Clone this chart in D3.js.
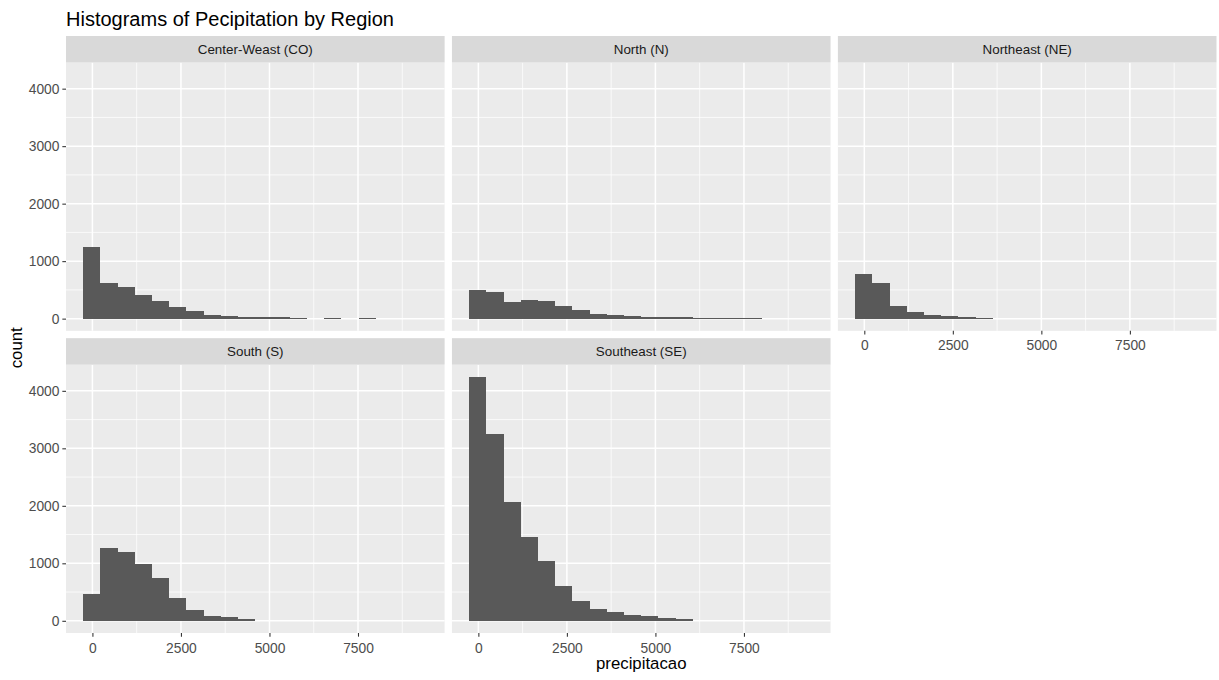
<!DOCTYPE html>
<html>
<head>
<meta charset="utf-8">
<script src="https://cdn.jsdelivr.net/npm/d3@7"></script>
<style>
  html, body { margin: 0; padding: 0; background: #ffffff; }
  svg { display: block; }
  text { font-family: "Liberation Sans", Arial, Helvetica, sans-serif; }
</style>
</head>
<body>
<svg id="chart" width="1219" height="680"></svg>
<script>
// Facet labels, in panel order (left to right, top to bottom)
const regions = ["Center-Weast (CO)", "North (N)", "Northeast (NE)", "South (S)", "Southeast (SE)"];

// Shared histogram bin edges (20 bins)
const binEdges = [-260, 226, 712, 1198, 1684, 2170, 2656, 3142, 3628, 4114, 4600,
                  5086, 5572, 6058, 6544, 7030, 7516, 8002, 8488, 8974, 9460];

// Counts per bin for each region
const countsCO = [1240, 614, 556, 417, 302, 203, 128, 64, 44, 24, 22, 20, 18, 0, 16, 0, 15, 0, 0, 0];
const countsN  = [497, 457, 295, 318, 302, 220, 144, 85, 64, 42, 24, 22, 20, 18, 16, 14, 12, 0, 0, 0];
const countsNE = [769, 613, 212, 121, 64, 42, 24, 18, 0, 0, 0, 0, 0, 0, 0, 0, 0, 0, 0, 0];
const countsS  = [462, 1260, 1202, 983, 751, 405, 191, 92, 69, 35, 0, 0, 0, 0, 0, 0, 0, 0, 0, 0];
const countsSE = [4243, 3246, 2070, 1461, 1043, 603, 350, 211, 151, 95, 75, 52, 35, 0, 0, 0, 0, 0, 0, 0];
const regionCounts = [countsCO, countsN, countsNE, countsS, countsSE];

// Axis breaks
const xTicks = [0, 2500, 5000, 7500];
const xMinor = [1250, 3750, 6250, 8750];
const yTicks = [0, 1000, 2000, 3000, 4000];
const yMinor = [500, 1500, 2500, 3500];

const titleText = "Histograms of Pecipitation by Region";
const xTitle = "precipitacao";
const yTitle = "count";

// ---- layout ----
const svg = d3.select("#chart");
const plotLeft = 66, plotRight = 1216.5, plotTop = 36, plotBottom = 633;
const spacing = 7.33, stripH = 26.5, nCol = 3, nRow = 2;
const panelW = (plotRight - plotLeft - spacing * (nCol - 1)) / nCol;
const panelH = (plotBottom - plotTop - spacing * (nRow - 1)) / nRow - stripH;

const tickFont = "13.8px", stripFont = "13.4px", titleFont = "20px", axisTitleFont = "16.8px";

// Scales shared by every panel (5% expansion like ggplot)
function expand(lo, hi) { const d = (hi - lo) * 0.05; return [lo - d, hi + d]; }
const x = d3.scaleLinear()
  .domain(expand(binEdges[0], binEdges[binEdges.length - 1]))
  .range([0, panelW]);
const yMax = d3.max(regionCounts.flat());
const y = d3.scaleLinear().domain(expand(0, yMax)).range([panelH, 0]);

const tickLen = 3.67;

// Title
svg.append("text")
  .attr("x", plotLeft).attr("y", 26)
  .attr("font-size", titleFont).attr("fill", "#000")
  .text(titleText);

regions.forEach((name, i) => {
  const col = i % nCol, row = Math.floor(i / nCol);
  const px = plotLeft + col * (panelW + spacing);
  const sy = plotTop + row * (stripH + panelH + spacing);
  const py = sy + stripH;
  const g = svg.append("g").attr("transform", `translate(${px},${py})`);

  // strip
  svg.append("rect").attr("x", px).attr("y", sy).attr("width", panelW).attr("height", stripH)
    .attr("fill", "#D9D9D9");
  svg.append("text").attr("x", px + panelW / 2).attr("y", sy + stripH / 2).attr("dy", "0.35em")
    .attr("text-anchor", "middle").attr("font-size", stripFont).attr("fill", "#1A1A1A")
    .text(name);

  // panel background
  g.append("rect").attr("width", panelW).attr("height", panelH).attr("fill", "#EBEBEB");

  // minor grid
  g.selectAll(".vminor").data(xMinor).join("line")
    .attr("x1", d => x(d)).attr("x2", d => x(d)).attr("y1", 0).attr("y2", panelH)
    .attr("stroke", "#fff").attr("stroke-width", 0.75);
  g.selectAll(".hminor").data(yMinor).join("line")
    .attr("y1", d => y(d)).attr("y2", d => y(d)).attr("x1", 0).attr("x2", panelW)
    .attr("stroke", "#fff").attr("stroke-width", 0.75);
  // major grid
  g.selectAll(".vmajor").data(xTicks).join("line")
    .attr("x1", d => x(d)).attr("x2", d => x(d)).attr("y1", 0).attr("y2", panelH)
    .attr("stroke", "#fff").attr("stroke-width", 1.5);
  g.selectAll(".hmajor").data(yTicks).join("line")
    .attr("y1", d => y(d)).attr("y2", d => y(d)).attr("x1", 0).attr("x2", panelW)
    .attr("stroke", "#fff").attr("stroke-width", 1.5);

  // bars
  const bins = regionCounts[i].map((c, k) => ({ x0: binEdges[k], x1: binEdges[k + 1], count: c }))
    .filter(b => b.count > 0);
  g.append("g").attr("shape-rendering", "crispEdges")
    .selectAll(".bar").data(bins).join("rect")
    .attr("x", d => x(d.x0)).attr("width", d => x(d.x1) - x(d.x0))
    .attr("y", d => y(d.count)).attr("height", d => y(0) - y(d.count))
    .attr("fill", "#595959");

  // y axis on the first column
  if (col === 0) {
    const ya = d3.axisLeft(y).tickValues(yTicks).tickSize(tickLen).tickPadding(2.9).tickFormat(d3.format("d"));
    const ag = svg.append("g").attr("transform", `translate(${px},${py})`).call(ya);
    ag.select(".domain").remove();
    ag.selectAll(".tick line").attr("stroke", "#333333").attr("stroke-width", 1.07);
    ag.selectAll(".tick text").attr("fill", "#4D4D4D").attr("font-size", tickFont)
      .attr("font-family", "Liberation Sans, Arial, sans-serif");
  }

  // x axis under panels with nothing below them
  const hasBelow = (i + nCol) < regions.length;
  if (!hasBelow) {
    const xa = d3.axisBottom(x).tickValues(xTicks).tickSize(tickLen).tickPadding(6.2).tickFormat(d3.format("d"));
    const ag = svg.append("g").attr("transform", `translate(${px},${py + panelH})`).call(xa);
    ag.select(".domain").remove();
    ag.selectAll(".tick line").attr("stroke", "#333333").attr("stroke-width", 1.07);
    ag.selectAll(".tick text").attr("fill", "#4D4D4D").attr("font-size", tickFont)
      .attr("font-family", "Liberation Sans, Arial, sans-serif");
  }
});

// axis titles
svg.append("text")
  .attr("x", (plotLeft + plotRight) / 2).attr("y", 669)
  .attr("text-anchor", "middle").attr("font-size", axisTitleFont).attr("fill", "#000")
  .text(xTitle);
svg.append("text")
  .attr("transform", `translate(22,${(plotTop + stripH + plotBottom) / 2}) rotate(-90)`)
  .attr("text-anchor", "middle").attr("font-size", axisTitleFont).attr("fill", "#000")
  .text(yTitle);
</script>
</body>
</html>
